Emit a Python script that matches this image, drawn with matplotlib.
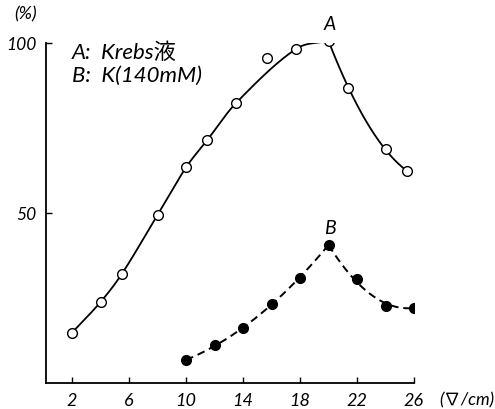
import numpy as np
import matplotlib.pyplot as plt

plt.rcParams['font.family'] = ['Lato', 'Noto Sans CJK JP', 'DejaVu Sans']
plt.rcParams['font.style'] = 'italic'

# A: Krebs solution (open circles)
a_x = [2, 4, 5.5, 8, 10, 11.5, 13.5, 15.7, 17.7, 20, 21.4, 24, 25.5]
a_y = [14.8, 23.8, 32.1, 49.4, 63.4, 71.5, 82.3, 95.5, 98.2, 100.6, 86.8, 68.7, 62.4]
# points left off the drawn line
a_skip = [15.7]

# B: K (140 mM) (filled circles)
b_x = [10, 12, 14, 16, 18, 20, 22, 24, 26]
b_y = [6.8, 11.2, 16.1, 23.2, 30.9, 40.6, 30.5, 22.6, 22.1]

peak = 20
x_ticks = [2, 6, 10, 14, 18, 22, 26]
y_ticks = [50, 100]


def select(x, y, lo, hi, skip=()):
    x = np.asarray(x, float)
    y = np.asarray(y, float)
    sel = (x >= lo) & (x <= hi) & ~np.isin(x, skip)
    return x[sel], y[sel]


def spline(xs, ys, n=300):
    # cubic Hermite through the points, slopes from neighbouring chords
    h = np.diff(xs)
    d = np.diff(ys) / h
    m = np.empty_like(ys)
    m[0], m[-1] = d[0], d[-1]
    m[1:-1] = (ys[2:] - ys[:-2]) / (xs[2:] - xs[:-2])
    xx = np.linspace(xs[0], xs[-1], n)
    k = np.clip(np.searchsorted(xs, xx) - 1, 0, len(xs) - 2)
    t = (xx - xs[k]) / h[k]
    h00 = 2 * t**3 - 3 * t**2 + 1
    h10 = t**3 - 2 * t**2 + t
    h01 = -2 * t**3 + 3 * t**2
    h11 = t**3 - t**2
    yy = h00 * ys[k] + h10 * h[k] * m[k] + h01 * ys[k + 1] + h11 * h[k] * m[k + 1]
    return xx, yy


def quad(xs, ys, n=200):
    # least-squares parabola, pinned near the peak
    w = np.ones_like(xs)
    w[0] = w[-1] = 5
    w[xs == peak] = 20
    p = np.polyfit(xs, ys, 2, w=w)
    xx = np.linspace(xs.min(), xs.max(), n)
    return xx, np.polyval(p, xx)


fig = plt.figure(figsize=(4.95, 4.09), dpi=100)
ax = fig.add_axes([46 / 495, 26 / 409, 368 / 495, 340 / 409])

# curve A, solid
xx, yy = spline(*select(a_x, a_y, 0, peak, a_skip))
ax.plot(xx, yy, color='black', lw=1.3)
xx, yy = quad(*select(a_x, a_y, peak, 30))
ax.plot(xx, yy, color='black', lw=1.3)
ax.plot(a_x, a_y, 'o', ms=7, mfc='white', mec='black', mew=1.0)

# curve B, dashed
for lo, hi in [(0, peak), (peak, 30)]:
    xx, yy = quad(*select(b_x, b_y, lo, hi))
    ax.plot(xx, yy, color='black', lw=1.4, dashes=(4, 2.5))
ax.plot(b_x, b_y, 'o', ms=7, color='black')

ax.set_xlim(0.175, 26)
ax.set_ylim(0, 100)
for s in ['top', 'right']:
    ax.spines[s].set_visible(False)
for s in ['left', 'bottom']:
    ax.spines[s].set_linewidth(1.3)

ax.set_xticks(x_ticks)
ax.set_xticklabels([str(t) for t in x_ticks])
ax.set_yticks(y_ticks)
ax.set_yticklabels([str(t) for t in y_ticks])
ax.tick_params(direction='in', length=4, width=1.0, labelsize=13, pad=7)
ax.tick_params(axis='y', labelsize=12.5)

fig.text(26 / 495, 1 - 14 / 409, '(%)', ha='center', va='center', fontsize=13)
fig.text(467 / 495, 1 - 400 / 409, '(∇/cm)', ha='center', va='center', fontsize=12.5)

ax.text(2.0, 97.0, 'A:  Krebs液', ha='left', va='center', fontsize=16)
ax.text(2.0, 90.4, 'B:  K(140mM)', ha='left', va='center', fontsize=16)
ax.text(20.1, 105.5, 'A', ha='center', va='center', fontsize=14, clip_on=False)
ax.text(20.1, 45.5, 'B', ha='center', va='center', fontsize=14)

fig.savefig('out.png', dpi=100)
